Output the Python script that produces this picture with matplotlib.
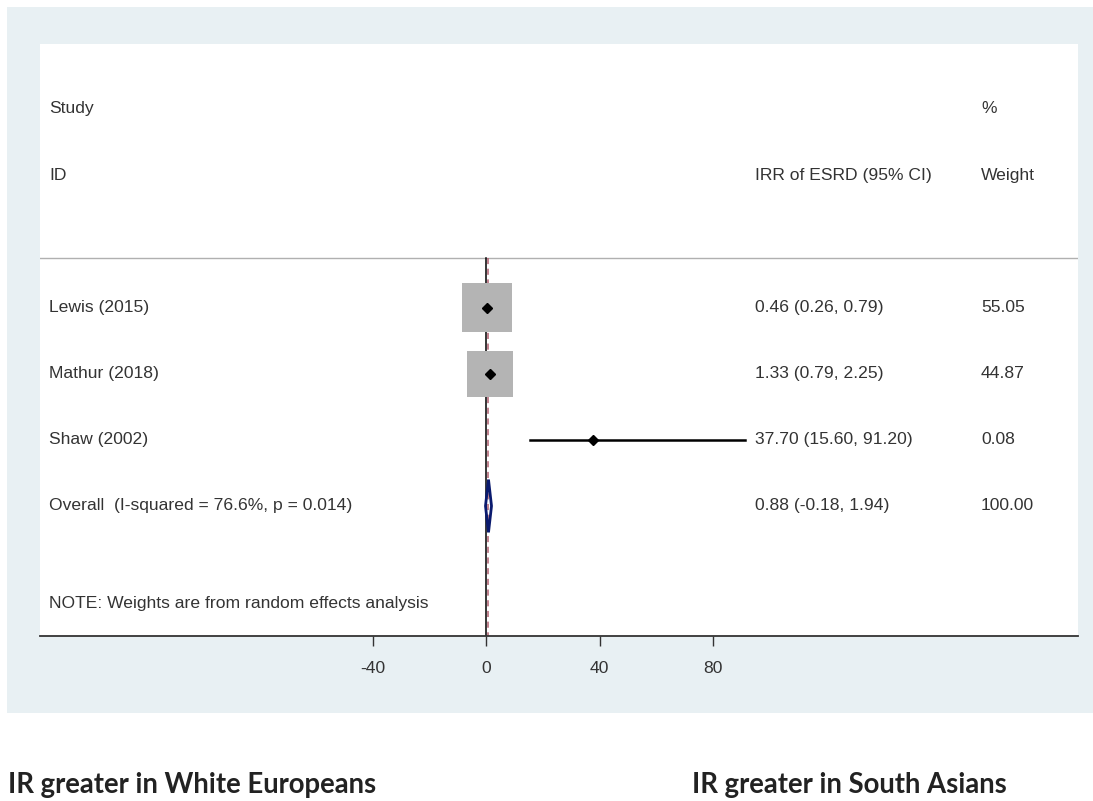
import matplotlib
matplotlib.use("Agg")
import matplotlib.pyplot as plt
from matplotlib.patches import Rectangle, Polygon

studies = ["Lewis (2015)", "Mathur (2018)", "Shaw (2002)"]
irr = [0.46, 1.33, 37.70]
lo = [0.26, 0.79, 15.60]
hi = [0.79, 2.25, 91.20]
ci_text = ["0.46 (0.26, 0.79)", "1.33 (0.79, 2.25)", "37.70 (15.60, 91.20)"]
weights = [55.05, 44.87, 0.08]
weight_text = ["55.05", "44.87", "0.08"]
overall_label = "Overall  (I-squared = 76.6%, p = 0.014)"
overall_est, overall_lo, overall_hi = 0.88, -0.18, 1.94
overall_ci = "0.88 (-0.18, 1.94)"
overall_w = "100.00"
xticks = [-40, 0, 40, 80]

W, H = 1093, 801
fig = plt.figure(figsize=(W / 100, H / 100), dpi=100)
fig.patch.set_facecolor("white")

# outer panel
bg = fig.add_axes([7 / W, 1 - 713 / H, (W - 7) / W, (713 - 7) / H], zorder=-5)
bg.set_facecolor("#e8f0f3")
bg.set_xticks([]); bg.set_yticks([])
for s in bg.spines.values():
    s.set_visible(False)

ax = fig.add_axes([40 / W, 1 - 636 / H, (1078 - 40) / W, (636 - 44) / H], zorder=1)
ax.set_facecolor("white")
px = 2.8375
ax.set_xlim((40 - 486) / px, (1078 - 486) / px)
ax.set_ylim(5.97, -3.0)

for s in ["top", "right", "left"]:
    ax.spines[s].set_visible(False)
ax.spines["bottom"].set_linewidth(1.3)
ax.spines["bottom"].set_color("#333333")
ax.set_yticks([])
ax.set_xticks(xticks)
ax.set_xticklabels([str(t) for t in xticks], fontfamily="Liberation Sans", fontsize=12.6,
                   color="#333333")
ax.tick_params(axis="x", length=7, width=1, pad=11, color="#333333")

font = dict(fontfamily="Liberation Sans", fontsize=12.6, color="#333333", va="center")
tx = ax.get_yaxis_transform()

def fx(p):
    return (p - 40) / (1078 - 40)

ax.text(fx(49), -2.02, "Study", transform=tx, **font)
ax.text(fx(49), -1.0, "ID", transform=tx, **font)
ax.text(fx(755), -1.0, "IRR of ESRD (95% CI)", transform=tx, **font)
ax.text(fx(981), -2.02, "%", transform=tx, **font)
ax.text(fx(981), -1.0, "Weight", transform=tx, **font)
ax.axhline(0.24, color="#b0b0b0", lw=1)

ax.plot([0, 0], [0.24, 5.97], color="black", lw=1.1, zorder=2)
ax.plot([overall_est, overall_est], [0.24, 5.97], color="#b06070", lw=1.1,
        ls=(0, (4, 3)), zorder=2)

box_px = [50, 46, 2]
for i, (name, e, l, h, ct, wt, bp) in enumerate(zip(studies, irr, lo, hi, ci_text, weight_text, box_px)):
    y = i + 1
    bw = bp / px
    bh = bp / 66.0 * 0.98
    if bp > 5:
        ax.add_patch(Rectangle((e - bw / 2, y - bh / 2), bw, bh, facecolor="#b4b4b4",
                               edgecolor="none", zorder=3))
    ax.plot([l, h], [y, y], color="black", lw=1.8, zorder=4)
    ax.plot([e], [y], marker="D", color="black", ms=5, zorder=5)
    ax.text(fx(49), y, name, transform=tx, **font)
    ax.text(fx(755), y, ct, transform=tx, **font)
    ax.text(fx(981), y, wt, transform=tx, **font)

yo = 4
ax.add_patch(Polygon([[overall_lo, yo], [overall_est, yo - 0.4], [overall_hi, yo],
                      [overall_est, yo + 0.4]], closed=True, facecolor="none",
                     edgecolor="#0a1a6e", lw=2.0, zorder=5))
ax.text(fx(49), yo, overall_label, transform=tx, **font)
ax.text(fx(755), yo, overall_ci, transform=tx, **font)
ax.text(fx(981), yo, overall_w, transform=tx, **font)

ax.text(fx(49), 5.48, "NOTE: Weights are from random effects analysis", transform=tx, **font)

bfont = dict(fontfamily="Lato", fontsize=19.8, fontweight="bold", color="#222222",
             va="center")
fig.text(8 / W, 1 - 785 / H, "IR greater in White Europeans", **bfont)
fig.text(692 / W, 1 - 785 / H, "IR greater in South Asians", **bfont)

fig.savefig("out.png", dpi=100)
